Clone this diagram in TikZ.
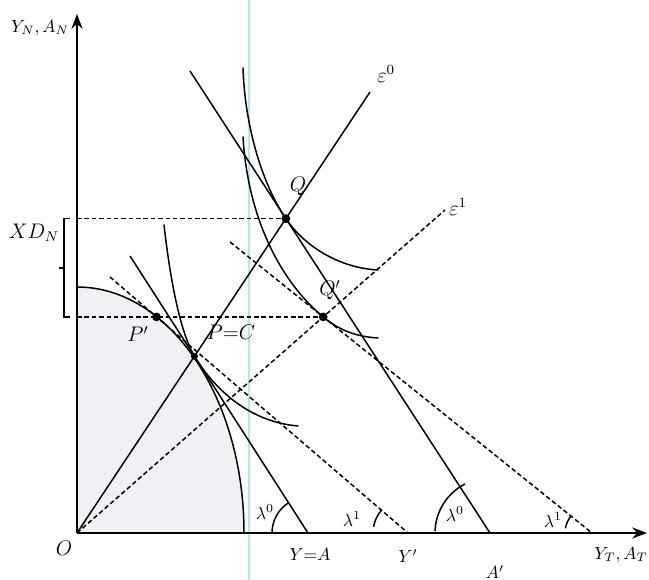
\documentclass[tikz,border=0pt]{standalone}
\usepackage{amsmath,amssymb}
\usetikzlibrary{arrows.meta,positioning,calc}
\definecolor{scancyan}{RGB}{175,232,238}
\definecolor{ppfgray}{RGB}{240,240,245}

\begin{document}
\begin{tikzpicture}[
    x=0.02cm,y=0.02cm,
    axisline/.style={line width=1.2pt},
    solidline/.style={line width=0.85pt},
    dashline/.style={line width=0.85pt,dash pattern=on 2.6pt off 1.6pt},
    curveline/.style={line width=0.85pt,line cap=round},
    lbl/.style={font=\normalsize,inner sep=1pt},
    ptlbl/.style={font=\large,inner sep=1pt},
    dotpt/.style={circle,fill,inner sep=0pt,minimum size=5pt},
    >=Stealth
]
\useasboundingbox (0,0) rectangle (649,580);

\draw[scancyan,line width=1.3pt] (249,0) -- (249,580);

\coordinate (O) at (77,47);
\coordinate (ytop) at (77,566);
\coordinate (xend) at (647,47);
\coordinate (e0end) at (370,488);
\coordinate (e1end) at (445,370);
\coordinate (YA) at (308,47);
\coordinate (l0atop) at (130,324);
\coordinate (Ap) at (490,47);
\coordinate (l0btop) at (190,509);
\coordinate (Yp) at (408,47);
\coordinate (l1atop) at (110,303);
\coordinate (l1bend) at (592,47);
\coordinate (l1btop) at (230,338);

\coordinate (Q) at (intersection of O--e0end and l0btop--Ap);
\coordinate (Qp) at (intersection of O--e1end and l1btop--l1bend);
\coordinate (PC) at (intersection of O--e0end and l0atop--YA);
\coordinate (Pp) at (intersection of l1atop--Yp and Qp--O|-Qp);

\fill[ppfgray] (O) -- (77,293) arc[start angle=90,end angle=0,x radius=167,y radius=246] -- cycle;
\draw[curveline] (77,293) arc[start angle=90,end angle=0,x radius=167,y radius=246];

\draw[axisline,->] (O) -- (ytop);
\draw[axisline,->] (O) -- (xend);

\draw[solidline] (O) -- (e0end);
\draw[dashline] (O) -- (e1end);

\draw[solidline] (l0atop) -- (YA);
\draw[solidline] (l0btop) -- (Ap);
\draw[dashline] (l1atop) -- (Yp);
\draw[dashline] (l1btop) -- (l1bend);

\draw[dashline] (Q -| O) -- (Q);
\draw[dashline] (Qp -| O) -- (Qp);

\draw[curveline] (164,355) .. controls (172,285) and (183,243) .. (PC) .. controls (215,190) and (250,158) .. (298,154);
\draw[curveline] (243,512) .. controls (245,450) and (264,393) .. (Q) .. controls (305,333) and (340,312) .. (378,310);
\draw[curveline] (243,443) .. controls (248,360) and (282,297) .. (Qp) .. controls (341,248) and (360,243) .. (378,242);

\draw[solidline] ($(Q -| O)+(-7,0)$) coordinate (brtop) -- ++(-6,0) -- ($(Qp -| O)+(-13,0)$) -- ++(6,0);
\draw[solidline] ($(O|-Q)!0.5!(O|-Qp)+(-13,0)$) -- ++(-5,0);

\draw[solidline] (YA) ++(180:36) arc[start angle=180,end angle=122,radius=36];
\draw[solidline] (Yp) ++(139:35) arc[start angle=139,end angle=170,radius=35];
\draw[solidline] (Ap) ++(178:55) arc[start angle=178,end angle=117,radius=55];
\draw[solidline] (l1bend) ++(141:27) arc[start angle=141,end angle=170,radius=27];

\node[dotpt] (Qdot) at (Q) {};
\node[dotpt] (Qpdot) at (Qp) {};
\node[dotpt] (Ppdot) at (Pp) {};
\node[dotpt,minimum size=4pt] (PCdot) at (PC) {};

\node[lbl] (ylabel) at (40,552) {$Y_N, A_N$};
\node[lbl] (xlabel) at (621,25) {$Y_T, A_T$};
\node[ptlbl] (Olabel) at (64,32) {$O$};
\node[lbl] (YAlabel) at (310,25) {$Y{=}A$};
\node[lbl] (Yplabel) at (408,24) {$Y'$};
\node[lbl] (Aplabel) at (495,8) {$A'$};
\node[ptlbl] (e0label) at (386,506) {$\varepsilon^0$};
\node[ptlbl] (e1label) at (458,373) {$\varepsilon^1$};
\node[ptlbl] (Qlabel) at (298,394) {$Q$};
\node[ptlbl] (Qplabel) at (330,290) {$Q'$};
\node[ptlbl] (Pplabel) at (138,246) {$P'$};
\node[ptlbl] (PClabel) at (231,248) {$P{=}C$};
\node[ptlbl] (XDlabel) at (34,347) {$XD_N$};
\node[lbl] (l0alabel) at (265,68) {$\lambda^0$};
\node[lbl] (l1alabel) at (352,61) {$\lambda^1$};
\node[lbl] (l0blabel) at (455,66) {$\lambda^0$};
\node[lbl] (l1blabel) at (553,60) {$\lambda^1$};
\end{tikzpicture}
\end{document}
